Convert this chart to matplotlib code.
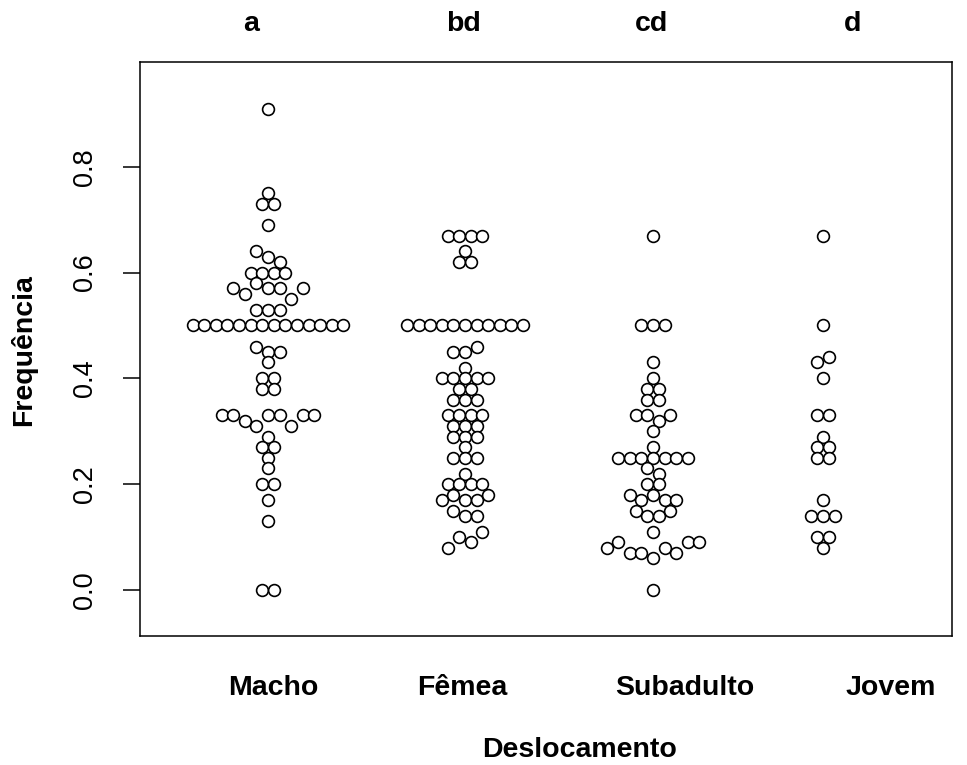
import numpy as np
import matplotlib
matplotlib.use("Agg")
import matplotlib.pyplot as plt

plt.rcParams["font.family"] = ["Liberation Sans", "DejaVu Sans"]

# data, per group, written cluster by cluster (top to bottom, left to right)
groups = ["Macho", "Fêmea", "Subadulto", "Jovem"]
letters = ["a", "bd", "cd", "d"]

macho = [0.91,
         0.75,
         0.73, 0.73,
         0.69,
         0.64, 0.63, 0.62,
         0.60, 0.60, 0.60, 0.60,
         0.57, 0.56, 0.58, 0.57, 0.57, 0.55, 0.57,
         0.53, 0.53, 0.53,
         0.50, 0.50, 0.50, 0.50, 0.50, 0.50, 0.50,
         0.50, 0.50, 0.50, 0.50, 0.50, 0.50, 0.50,
         0.46, 0.45, 0.45,
         0.43,
         0.40, 0.40,
         0.38, 0.38,
         0.33, 0.33, 0.32, 0.31, 0.33, 0.33, 0.31, 0.33, 0.33,
         0.29,
         0.27, 0.27,
         0.25,
         0.23,
         0.20, 0.20,
         0.17,
         0.13,
         0.00, 0.00]

femea = [0.67, 0.67, 0.67, 0.67,
         0.64,
         0.62, 0.62,
         0.50, 0.50, 0.50, 0.50, 0.50, 0.50, 0.50, 0.50, 0.50, 0.50, 0.50,
         0.45, 0.45, 0.46,
         0.42,
         0.40, 0.40, 0.40, 0.40, 0.40,
         0.38, 0.38,
         0.36, 0.36, 0.36,
         0.33, 0.33, 0.33, 0.33,
         0.31, 0.31, 0.31,
         0.29, 0.29, 0.29,
         0.27,
         0.25, 0.25, 0.25,
         0.22,
         0.20, 0.20, 0.20, 0.20,
         0.17, 0.18, 0.17, 0.17, 0.18,
         0.15, 0.14, 0.14,
         0.08, 0.10, 0.09, 0.11]

subadulto = [0.67,
             0.50, 0.50, 0.50,
             0.43,
             0.40,
             0.38, 0.38,
             0.36, 0.36,
             0.33, 0.33, 0.32, 0.33,
             0.30,
             0.27,
             0.25, 0.25, 0.25, 0.25, 0.25, 0.25, 0.25,
             0.23, 0.22,
             0.20, 0.20,
             0.18, 0.17, 0.18, 0.17, 0.17,
             0.15, 0.14, 0.14, 0.15,
             0.11,
             0.08, 0.09, 0.07, 0.07, 0.06, 0.08, 0.07, 0.09, 0.09,
             0.00]

jovem = [0.67,
         0.50,
         0.43, 0.44,
         0.40,
         0.33, 0.33,
         0.29,
         0.27, 0.27,
         0.25, 0.25,
         0.17,
         0.14, 0.14, 0.14,
         0.10, 0.10,
         0.08]

data = [macho, femea, subadulto, jovem]

# layout (axes x units = pixels inside the box)
centers = [128, 325, 513, 683]
step = 11.6
label_x = [273, 462, 685, 891]
letter_x = [251, 463, 652, 853]


def swarm_offsets(vals, gap=0.015, step=11.6):
    # group neighbouring values into rows, then spread each row around the centre
    vals = np.asarray(vals, dtype=float)
    order = np.argsort(-vals, kind="stable")
    clusters, cur = [], [order[0]]
    for a, b in zip(order[:-1], order[1:]):
        if vals[a] - vals[b] > gap:
            clusters.append(cur)
            cur = [b]
        else:
            cur.append(b)
    clusters.append(cur)
    offs = np.zeros(len(vals))
    for c in clusters:
        c = sorted(c)
        n = len(c)
        for i, idx in enumerate(c):
            offs[idx] = (i - (n - 1) / 2) * step
    return offs


W, H = 967, 765
fig = plt.figure(figsize=(W / 100, H / 100), dpi=100)
ax = fig.add_axes([140 / W, 1 - 636 / H, (952 - 140) / W, (636 - 62) / H])

for c, vals in zip(centers, data):
    x = c + swarm_offsets(vals, step=step)
    ax.scatter(x, vals, s=72, facecolors="white", edgecolors="black",
               linewidths=1.2, zorder=3)

ax.set_xlim(0, 812)
ax.set_ylim(-0.087, 0.998)
ax.set_xticks([])
ax.set_yticks([0.0, 0.2, 0.4, 0.6, 0.8])
ax.set_yticklabels(["0.0", "0.2", "0.4", "0.6", "0.8"], rotation=90,
                   va="center", fontsize=19.5)
ax.tick_params(axis="y", length=12, width=1.1, pad=18)
for s in ax.spines.values():
    s.set_linewidth(1.1)

for g, lx in zip(groups, label_x):
    fig.text(lx / W, 1 - 688 / H, g, ha="center", va="center",
             fontsize=20.5, fontweight="bold")
for l, lx in zip(letters, letter_x):
    fig.text(lx / W, 1 - 24 / H, l, ha="center", va="center",
             fontsize=20.5, fontweight="bold")

fig.text(580 / W, 1 - 750 / H, "Deslocamento", ha="center", va="center",
         fontsize=20.5, fontweight="bold")
fig.text(24 / W, 1 - 350 / H, "Frequência", ha="center", va="center",
         rotation=90, fontsize=20.5, fontweight="bold")

fig.savefig("out.png", dpi=100)
